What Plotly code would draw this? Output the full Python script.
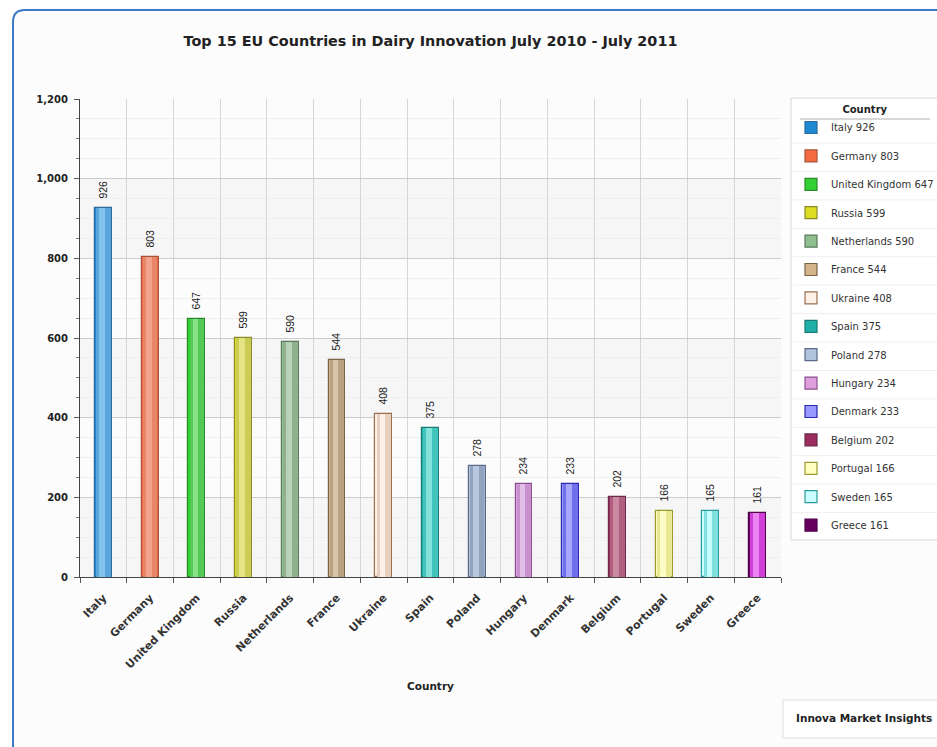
import plotly.graph_objects as go

# Data
countries = ["Italy", "Germany", "United Kingdom", "Russia", "Netherlands", "France",
             "Ukraine", "Spain", "Poland", "Hungary", "Denmark", "Belgium",
             "Portugal", "Sweden", "Greece"]
launches = [926, 803, 647, 599, 590, 544, 408, 375, 278, 234, 233, 202, 166, 165, 161]

# Legend / base colours, bar edge colours, body colours and highlight colours
legend_colors = ["#1e88d2", "#f46a40", "#33d033", "#dcdc22", "#90c090", "#d4b48a",
                 "#fdf0e6", "#20b0a8", "#b0c4de", "#dda0dd", "#9999ff", "#9b2d5e",
                 "#ffffc0", "#ccffff", "#66005e"]
edge_colors = ["#2c6a98", "#a8543a", "#2a8a2a", "#8a8a2a", "#5a7a5a", "#7a6448",
               "#9a7050", "#1a7a74", "#5a6a88", "#8a5090", "#2a2ab0", "#6a2a4a",
               "#9a9a30", "#2a9a9a", "#50004a"]
body_colors = ["#5aa5dc", "#e8866a", "#55c855", "#cccc55", "#90b090", "#b8a080",
               "#e8d0bc", "#40c4bc", "#90a4c0", "#c890cc", "#7070ee", "#b0607e",
               "#e8e890", "#80e0e0", "#d040d8"]
shine_colors = ["#8cc8f0", "#f4a890", "#90e890", "#e8e890", "#c0d8c0", "#dccbb0",
                "#fff5ee", "#90e8e0", "#c0d0e4", "#e8c8ec", "#b0b0ff", "#d090a8",
                "#ffffd0", "#d0ffff", "#f090f8"]

W, H = 937, 747
L, R, T, B = 80, 781, 99, 577  # plot area in pixels


def px(x):
    return (x - L) / (R - L)


def py(y):
    return (B - y) / (B - T)


fig = go.Figure()

for c, v, lc, ec in zip(countries, launches, legend_colors, edge_colors):
    fig.add_trace(go.Bar(
        x=[c], y=[v], name=f"{c} {v}", legendgroup=c,
        width=0.36,
        marker=dict(color=lc, line=dict(color=ec, width=1.2)),
        text=[v], texttemplate="\u00a0\u00a0%{y}", textposition="outside",
        textangle=-90, cliponaxis=False, constraintext="none",
        textfont=dict(family="Liberation Sans, Arial", size=10.5, color="#1a1a1a"),
        hoverinfo="x+y",
    ))

# cylinder body and shine
fig.add_trace(go.Bar(x=countries, y=launches, width=0.31, showlegend=False,
                     marker=dict(color=body_colors, line=dict(width=0)), hoverinfo="skip"))
fig.add_trace(go.Bar(x=countries, y=launches, width=0.12, offset=-0.09, showlegend=False,
                     marker=dict(color=shine_colors, line=dict(width=0), opacity=0.85),
                     hoverinfo="skip"))

shapes = []
# outer rounded frame
x0, y0 = px(13), py(10)
x1, y1 = px(975), py(780)
rx, ry = 12 / (R - L), 12 / (B - T)
shapes.append(dict(
    type="path", xref="paper", yref="paper", layer="below",
    path=(f"M {x0},{y1} L {x0},{y0 - ry} Q {x0},{y0} {x0 + rx},{y0} "
          f"L {x1},{y0} L {x1},{y1} Z"),
    fillcolor="#fcfcfc", line=dict(color="#3c7ac6", width=2),
))
# legend panel background
shapes.append(dict(type="rect", xref="paper", yref="paper", x0=px(791), x1=px(960),
                   y0=py(540), y1=py(98), fillcolor="#ffffff",
                   line=dict(color="#d8d8d8", width=1), layer="below"))
# alternating horizontal bands
for lo in (0, 400, 800):
    shapes.append(dict(type="rect", xref="paper", yref="y", x0=0, x1=1, y0=lo, y1=lo + 200,
                       fillcolor="#f6f6f6", line=dict(width=0), layer="below"))
# legend separators
for i in range(14):
    yy = 143 + 28.43 * i
    shapes.append(dict(type="line", xref="paper", yref="paper", x0=px(793), x1=px(937),
                       y0=py(yy), y1=py(yy), line=dict(color="#efefef", width=1)))
# legend title underline
shapes.append(dict(type="line", xref="paper", yref="paper", x0=px(800), x1=px(930),
                   y0=py(119), y1=py(119), line=dict(color="#b0b0b0", width=1)))
# source box
shapes.append(dict(type="rect", xref="paper", yref="paper", x0=px(783), x1=px(960),
                   y0=py(700), y1=py(738), fillcolor="#ffffff",
                   line=dict(color="#dddddd", width=1)))

annotations = [
    dict(text="<b>Country</b>", xref="paper", yref="paper", x=px(430), y=py(686),
         yanchor="middle", showarrow=False,
         font=dict(family="DejaVu Sans", size=10.5, color="#222222")),
    dict(text="<b>Innova Market Insights</b>", xref="paper", yref="paper",
         x=px(794), y=py(718), xanchor="left", yanchor="middle", showarrow=False,
         font=dict(family="DejaVu Sans", size=10.5, color="#222222")),
]

fig.update_layout(
    width=W, height=H,
    margin=dict(l=L, r=W - R, t=T, b=H - B, autoexpand=False),
    paper_bgcolor="#ffffff", plot_bgcolor="#ffffff",
    barmode="overlay", bargap=0,
    title=dict(text="<b>Top 15 EU Countries in Dairy Innovation July 2010 - July 2011</b>",
               x=px(430.5), xref="paper", xanchor="center",
               y=1 - 41 / H, yref="container", yanchor="middle",
               font=dict(family="DejaVu Sans", size=14.4, color="#222222")),
    font=dict(family="DejaVu Sans", color="#333333"),
    shapes=shapes, annotations=annotations,
    showlegend=True,
    legend=dict(
        x=px(791), y=py(100), xanchor="left", yanchor="top",
        bgcolor="rgba(0,0,0,0)", borderwidth=0,
        font=dict(family="DejaVu Sans", size=10, color="#333333"),
        title=dict(text="<b>Country</b>", side="top center",
                   font=dict(family="DejaVu Sans", size=10, color="#222222")),
        tracegroupgap=9.4, itemclick=False, maxheight=700,
    ),
    xaxis=dict(
        type="category", categoryorder="array", categoryarray=countries,
        tickson="boundaries", ticks="outside", ticklen=5, tickcolor="#555555",
        showline=True, linecolor="#444444", linewidth=1,
        showgrid=True, gridcolor="#d6d6d6", gridwidth=1,
        tickangle=-45, ticklabelstandoff=9,
        tickfont=dict(family="DejaVu Sans", size=11, color="#333333", weight="bold"),
    ),
    yaxis=dict(
        range=[0, 1200], dtick=200, tickformat=",",
        ticks="outside", ticklen=5, tickcolor="#555555", ticklabelstandoff=4,
        showline=True, linecolor="#444444", linewidth=1,
        showgrid=True, gridcolor="#cccccc", gridwidth=1, zeroline=False,
        tickfont=dict(family="DejaVu Sans", size=10, color="#222222", weight="bold"),
        minor=dict(dtick=50, ticks="outside", ticklen=3, tickcolor="#777777",
                   showgrid=True, gridcolor="#efefef"),
    ),
)

fig.write_html("out.html")
